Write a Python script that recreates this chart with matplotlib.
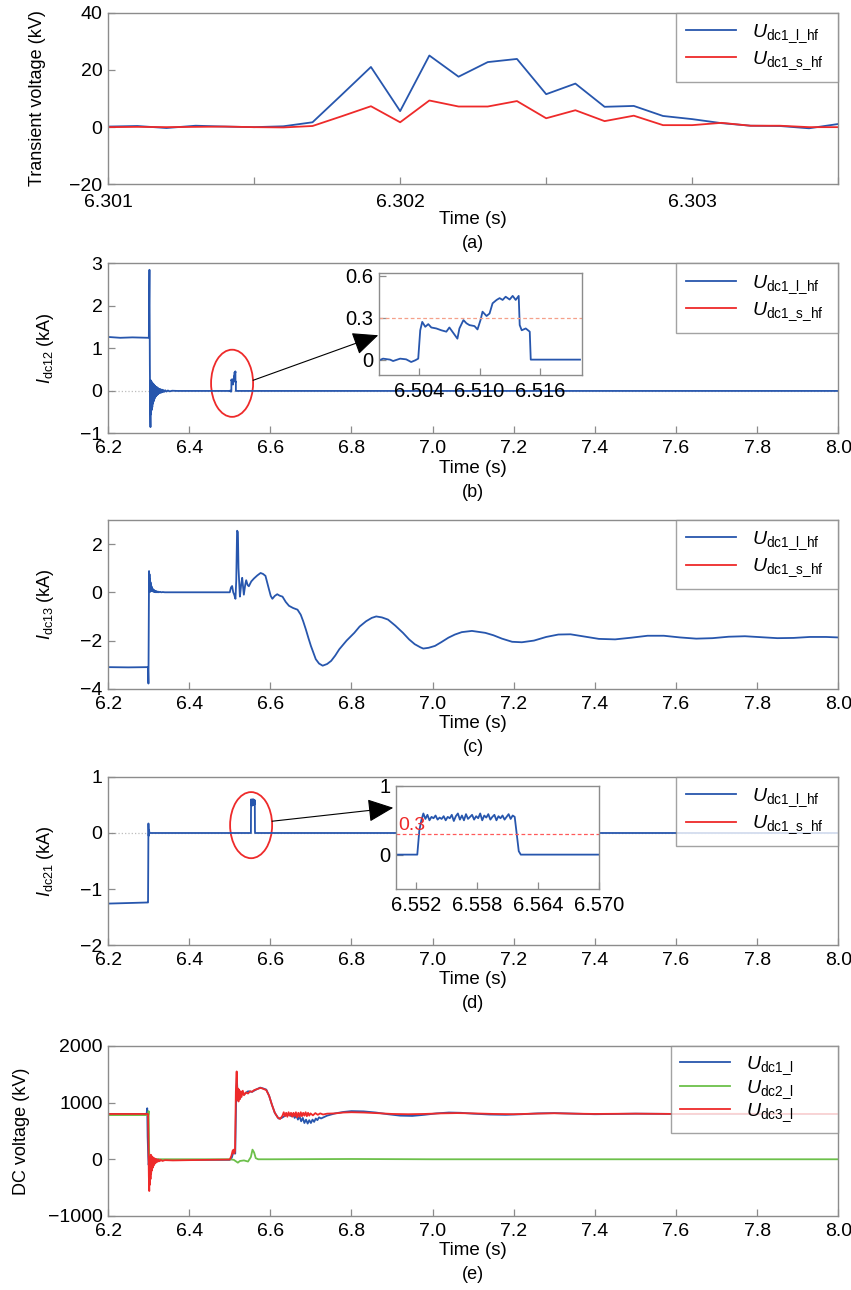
import numpy as np
import matplotlib
matplotlib.use("Agg")
import matplotlib.pyplot as plt
from matplotlib.patches import Ellipse

plt.rcParams['font.family'] = ['Liberation Sans', 'DejaVu Sans']
plt.rcParams['mathtext.fontset'] = 'custom'
plt.rcParams['mathtext.rm'] = 'Liberation Sans'
plt.rcParams['mathtext.it'] = 'Liberation Sans:italic'

BLUE = '#2756ad'
RED = '#ee2a2a'
GREEN = '#6cc04a'
GRAY = '#8c8c8c'

# ---- (a) transient voltage ----
a_time = [6.3010, 6.3011, 6.3012, 6.3013, 6.3014, 6.3015, 6.3016, 6.3017, 6.3018, 6.3019,
          6.3020, 6.3021, 6.3022, 6.3023, 6.3024, 6.3025, 6.3026, 6.3027, 6.3028, 6.3029,
          6.3030, 6.3031, 6.3032, 6.3033, 6.3034, 6.3035]
a_long = [0.2, 0.4, -0.3, 0.5, 0.2, 0.0, 0.3, 1.7, 11.3, 21.0,
          5.6, 25.0, 17.6, 22.7, 23.8, 11.5, 15.2, 7.1, 7.4, 3.9,
          2.8, 1.4, 0.5, 0.4, -0.4, 1.1]
a_short = [0.0, 0.1, 0.0, 0.1, 0.2, 0.0, -0.1, 0.4, 3.8, 7.3,
           1.7, 9.3, 7.2, 7.2, 9.1, 3.1, 5.9, 2.1, 4.0, 0.7,
           0.7, 1.5, 0.5, 0.5, 0.0, 0.0]

# ---- (b) Idc12 ----
b_time = [6.2000, 6.2300, 6.2600, 6.3005, 6.3012, 6.3020, 6.3030, 6.3038, 6.3045, 6.3052,
          6.3060, 6.3067, 6.3075, 6.3082, 6.3090, 6.3097, 6.3105, 6.3112, 6.3120, 6.3128,
          6.3136, 6.3144, 6.3152, 6.3160, 6.3168, 6.3176, 6.3185, 6.3194, 6.3203, 6.3215,
          6.3227, 6.3239, 6.3251, 6.3265, 6.3279, 6.3293, 6.3310, 6.3328, 6.3346, 6.3365,
          6.3385, 6.3410, 6.3440, 6.3475, 6.3520, 6.3580, 6.3700, 6.4000, 6.4500, 6.4990]
b_vals = [1.27, 1.25, 1.26, 1.25, 2.10, 2.85, 0.60, -0.40, -0.85, 0.25,
          -0.55, 0.22, -0.45, 0.20, -0.38, 0.18, -0.30, 0.17, -0.25, 0.15,
          -0.21, 0.13, -0.17, 0.12, -0.14, 0.10, -0.12, 0.09, -0.10, 0.08,
          -0.08, 0.06, -0.06, 0.05, -0.05, 0.04, -0.04, 0.03, -0.03, 0.02,
          -0.02, 0.015, -0.015, 0.01, -0.01, 0.005, 0.0, 0.0, 0.0, 0.0]
b_zoom_time = [6.5000, 6.5004, 6.5011, 6.5014, 6.5021, 6.5027, 6.5032, 6.5036, 6.5039, 6.5041,
               6.5043, 6.5046, 6.5049, 6.5052, 6.5057, 6.5062, 6.5067, 6.5070, 6.5074, 6.5078,
               6.5080, 6.5084, 6.5087, 6.5090, 6.5095, 6.5098, 6.5101, 6.5103, 6.5107, 6.5110,
               6.5113, 6.5117, 6.5120, 6.5123, 6.5126, 6.5130, 6.5133, 6.5136, 6.5139, 6.5140,
               6.5142, 6.5146, 6.5150, 6.5151, 6.5200]
b_zoom_vals = [-0.005, 0.007, 0.0, -0.01, 0.007, 0.002, -0.017, -0.005, 0.007, 0.21,
               0.27, 0.235, 0.254, 0.23, 0.223, 0.21, 0.20, 0.23, 0.19, 0.15,
               0.223, 0.283, 0.26, 0.247, 0.24, 0.216, 0.283, 0.343, 0.312, 0.33,
               0.403, 0.427, 0.44, 0.427, 0.45, 0.43, 0.456, 0.427, 0.456, 0.247,
               0.21, 0.223, 0.20, 0.0, 0.0]

# ---- (c) Idc13 ----
c_time = [6.2000, 6.2500, 6.2985, 6.2995, 6.3003, 6.3010, 6.3016, 6.3022, 6.3028, 6.3034,
          6.3040, 6.3046, 6.3052, 6.3058, 6.3064, 6.3070, 6.3078, 6.3086, 6.3094, 6.3102,
          6.3112, 6.3122, 6.3132, 6.3142, 6.3155, 6.3168, 6.3180, 6.3195, 6.3210, 6.3230,
          6.3250, 6.3280, 6.3310, 6.3350, 6.3400, 6.4000, 6.4950, 6.5000, 6.5030, 6.5058,
          6.5085, 6.5110, 6.5140, 6.5160, 6.5180, 6.5200, 6.5215, 6.5250, 6.5280, 6.5306,
          6.5330, 6.5347, 6.5380, 6.5405, 6.5440, 6.5470, 6.5530, 6.5595, 6.5680, 6.5760,
          6.5820, 6.5880, 6.5930, 6.5970, 6.6010, 6.6050, 6.6110, 6.6170, 6.6230, 6.6300,
          6.6380, 6.6460, 6.6560, 6.6670, 6.6750, 6.6810, 6.6876, 6.6940, 6.7000, 6.7060,
          6.7120, 6.7200, 6.7290, 6.7400, 6.7500, 6.7600, 6.7700, 6.7880, 6.8070, 6.8200,
          6.8360, 6.8500, 6.8610, 6.8750, 6.8900, 6.9080, 6.9270, 6.9420, 6.9560, 6.9700,
          6.9770, 6.9900, 7.0060, 7.0220, 7.0390, 7.0550, 7.0720, 7.0970, 7.1300, 7.1500,
          7.1710, 7.1960, 7.2200, 7.2500, 7.2800, 7.3100, 7.3400, 7.3700, 7.4100, 7.4500,
          7.4900, 7.5300, 7.5700, 7.6100, 7.6500, 7.6900, 7.7300, 7.7700, 7.8100, 7.8500,
          7.8900, 7.9300, 7.9700, 8.0000]
c_vals = [-3.10, -3.11, -3.10, -3.78, -1.00, 0.88, 0.10, 0.75, 0.05, 0.55,
          0.02, 0.42, 0.05, 0.32, 0.05, 0.25, 0.06, 0.18, 0.05, 0.14,
          0.03, 0.10, 0.02, 0.08, 0.01, 0.06, 0.00, 0.04, 0.00, 0.03,
          0.00, 0.02, 0.00, 0.01, 0.00, 0.00, 0.00, 0.00, 0.20, 0.26,
          0.00, -0.10, -0.27, 0.50, 2.55, 2.50, 1.00, -0.18, 0.30, 0.60,
          0.20, -0.10, 0.30, 0.50, 0.30, 0.25, 0.45, 0.57, 0.70, 0.80,
          0.76, 0.68, 0.35, 0.10, -0.15, -0.27, -0.15, -0.08, -0.14, -0.18,
          -0.40, -0.56, -0.65, -0.72, -0.93, -1.20, -1.54, -1.90, -2.22, -2.50,
          -2.77, -2.95, -3.04, -2.97, -2.84, -2.62, -2.36, -2.00, -1.68, -1.42,
          -1.20, -1.06, -1.00, -1.04, -1.13, -1.38, -1.68, -1.95, -2.15, -2.28,
          -2.33, -2.30, -2.22, -2.06, -1.88, -1.75, -1.65, -1.60, -1.68, -1.78,
          -1.92, -2.05, -2.07, -2.00, -1.85, -1.75, -1.74, -1.82, -1.93, -1.95,
          -1.88, -1.80, -1.80, -1.87, -1.92, -1.90, -1.84, -1.82, -1.86, -1.90,
          -1.89, -1.85, -1.85, -1.87]

# ---- (d) Idc21 ----
d_time = [6.2000, 6.2500, 6.2980, 6.2985, 6.2990, 6.2995, 6.3002, 6.3010, 6.3020, 6.3100,
          6.4000, 6.5500, 6.5521, 6.5523]
d_vals = [-1.26, -1.25, -1.24, -1.24, -0.60, 0.17, -0.05, 0.05, 0.00, 0.00,
          0.00, 0.00, 0.00, 0.35]
d_zoom_time = [6.5525, 6.5527, 6.5529, 6.5531, 6.5533, 6.5535, 6.5537, 6.5539, 6.5541, 6.5543,
               6.5545, 6.5547, 6.5549, 6.5551, 6.5553, 6.5555, 6.5557, 6.5559, 6.5561, 6.5563,
               6.5565, 6.5567, 6.5569, 6.5571, 6.5573, 6.5575, 6.5577, 6.5579, 6.5581, 6.5583,
               6.5585, 6.5587, 6.5589, 6.5591, 6.5593, 6.5595, 6.5597, 6.5599, 6.5601, 6.5603,
               6.5605, 6.5607, 6.5609, 6.5611, 6.5613, 6.5615, 6.5617]
d_zoom_vals = [0.50, 0.60, 0.52, 0.58, 0.50, 0.55, 0.53, 0.57, 0.51, 0.54,
               0.52, 0.56, 0.50, 0.55, 0.53, 0.58, 0.49, 0.56, 0.60, 0.51,
               0.57, 0.50, 0.59, 0.52, 0.55, 0.58, 0.51, 0.56, 0.53, 0.60,
               0.50, 0.57, 0.54, 0.59, 0.51, 0.55, 0.58, 0.50, 0.56, 0.53,
               0.57, 0.51, 0.55, 0.59, 0.52, 0.57, 0.55]
d_tail_time = [6.5619, 6.5621, 6.5623, 6.5700, 8.0000]
d_tail_vals = [0.30, 0.05, 0.00, 0.00, 0.00]

# ---- (e) DC voltages ----
e1_time = [6.2000, 6.2950, 6.2965, 6.2975, 6.2990, 6.3000, 6.3020, 6.3050, 6.3100, 6.3300,
           6.5000, 6.5050, 6.5100, 6.5135, 6.5155, 6.5175, 6.5195, 6.5220, 6.5260, 6.5300,
           6.5360, 6.5450, 6.5550, 6.5650, 6.5750, 6.5820, 6.5900, 6.5970, 6.6040, 6.6110,
           6.6200, 6.6280, 6.6370, 6.6450, 6.6520, 6.6560, 6.6600, 6.6640, 6.6680, 6.6720,
           6.6760, 6.6800, 6.6840, 6.6880, 6.6920, 6.6960, 6.7000, 6.7040, 6.7080, 6.7120,
           6.7160, 6.7200, 6.7250, 6.7400, 6.7600, 6.7800, 6.8000, 6.8300, 6.8600, 6.8900,
           6.9200, 6.9500, 6.9800, 7.0100, 7.0400, 7.0700, 7.1000, 7.1400, 7.1800, 7.2200,
           7.2600, 7.3000, 7.3500, 7.4000, 7.4500, 7.5000, 7.6000, 7.7000, 8.0000]
e1_vals = [800, 800, 900, 400, 50, -100, 50, -30, 0, -10,
           -10, 30, 150, 100, 1000, 1440, 1100, 1150, 1080, 1180,
           1150, 1200, 1190, 1230, 1265, 1250, 1230, 1120, 960, 820,
           720, 730, 770, 790, 760, 800, 730, 780, 700, 760,
           670, 730, 640, 700, 630, 690, 640, 700, 660, 720,
           690, 740, 720, 770, 810, 835, 850, 845, 825, 795,
           770, 765, 785, 810, 825, 820, 805, 790, 785, 795,
           810, 815, 805, 795, 800, 805, 800, 800, 800]
e2_time = [6.2000, 6.2990, 6.3000, 6.3010, 6.3020, 6.3040, 6.3060, 6.3100, 6.3200, 6.5000,
           6.5100, 6.5200, 6.5250, 6.5350, 6.5450, 6.5520, 6.5560, 6.5600, 6.5640, 6.5700,
           6.6000, 6.8000, 7.0000, 7.5000, 8.0000]
e2_vals = [780, 780, 850, 200, -30, 30, -10, 10, 0, 0,
           -10, -60, -30, -20, -40, 40, 170, 120, 20, 0,
           0, 5, 0, 0, 0]
e3_time = [6.2000, 6.2985, 6.2995, 6.3005, 6.3015, 6.3022, 6.3030, 6.3038, 6.3046, 6.3054,
           6.3062, 6.3070, 6.3080, 6.3090, 6.3100, 6.3112, 6.3124, 6.3136, 6.3150, 6.3165,
           6.3180, 6.3200, 6.3220, 6.3245, 6.3270, 6.3300, 6.3340, 6.3400, 6.3600, 6.4000,
           6.4500, 6.5000, 6.5040, 6.5070, 6.5095, 6.5110, 6.5130, 6.5150, 6.5170, 6.5185,
           6.5200, 6.5215, 6.5230, 6.5250, 6.5270, 6.5290, 6.5320, 6.5350, 6.5400, 6.5450,
           6.5500, 6.5550, 6.5600, 6.5680, 6.5760, 6.5820, 6.5900, 6.5970, 6.6040, 6.6110,
           6.6180, 6.6240, 6.6300, 6.6330, 6.6360, 6.6390, 6.6420, 6.6450, 6.6480, 6.6510,
           6.6540, 6.6570, 6.6600, 6.6630, 6.6660, 6.6690, 6.6720, 6.6750, 6.6780, 6.6810,
           6.6840, 6.6870, 6.6900, 6.6930, 6.6960, 6.6990, 6.7050, 6.7110, 6.7170, 6.7230,
           6.7300, 6.7400, 6.7600, 6.7800, 6.8000, 6.8300, 6.8600, 6.9000, 6.9400, 6.9800,
           7.0200, 7.0600, 7.1000, 7.1500, 7.2000, 7.2500, 7.3000, 7.3500, 7.4000, 7.5000,
           7.6000, 7.7000, 8.0000]
e3_vals = [800, 800, 300, -300, -560, -100, -450, 50, -350, 80,
           -250, 60, -200, 40, -150, 30, -110, 20, -80, 10,
           -60, 0, -45, -5, -35, -10, -30, -15, -20, -15,
           -10, -5, 60, 150, 170, 100, 150, 1200, 1550, 1050,
           1250, 1020, 1230, 1060, 1200, 1100, 1210, 1130, 1180, 1160,
           1200, 1190, 1220, 1240, 1260, 1245, 1220, 1120, 960, 820,
           740, 710, 770, 830, 760, 820, 750, 830, 770, 820,
           750, 820, 760, 830, 740, 820, 750, 830, 760, 820,
           770, 830, 760, 820, 770, 810, 775, 815, 785, 810,
           790, 805, 810, 825, 830, 825, 815, 800, 795, 800,
           810, 815, 810, 800, 795, 805, 812, 805, 800, 805,
           800, 802, 800]

lbl_hf = [r'$U_{\mathrm{dc1\_l\_hf}}$', r'$U_{\mathrm{dc1\_s\_hf}}$']
lbl_e = [r'$U_{\mathrm{dc1\_l}}$', r'$U_{\mathrm{dc2\_l}}$', r'$U_{\mathrm{dc3\_l}}$']
long_ticks = [6.2, 6.4, 6.6, 6.8, 7.0, 7.2, 7.4, 7.6, 7.8, 8.0]


def style_axis(ax, fs=14, xpad=5):
    for sp in ax.spines.values():
        sp.set_color(GRAY)
        sp.set_linewidth(1.0)
    ax.tick_params(direction='in', length=5, width=0.9, color=GRAY, labelsize=fs)
    ax.tick_params(axis='x', pad=xpad)
    ax.tick_params(axis='y', pad=4)


def finish(ax, ylabel, letter, ylab_x=-0.086, xpad=5):
    style_axis(ax, xpad=xpad)
    ax.set_xlabel('Time (s)', fontsize=13.5)
    ax.xaxis.set_label_coords(0.5, -0.205)
    ax.xaxis.label.set_va('center')
    ax.set_ylabel(ylabel, fontsize=13)
    ax.yaxis.set_label_coords(ylab_x, 0.5)
    ax.yaxis.label.set_va('center')
    ax.text(0.5, -0.345, letter, transform=ax.transAxes, ha='center', va='center', fontsize=13)


def add_legend(ax, x0=0.778, bpad=0.5, lspace=0.25):
    leg = ax.legend(loc='upper left', bbox_to_anchor=(x0, 0, 1 - x0, 1), mode='expand',
                    fontsize=14, frameon=True, fancybox=False,
                    borderaxespad=0, edgecolor=GRAY, handlelength=2.6,
                    borderpad=bpad, labelspacing=lspace, handletextpad=0.8)
    leg.get_frame().set_linewidth(1.0)


fig = plt.figure(figsize=(8.51, 12.90), dpi=100)
L, W = 0.127, 0.858

# (a)
ax = fig.add_axes([L, 0.857, W, 0.1333])
ax.plot(a_time, a_long, color=BLUE, lw=1.3, label=lbl_hf[0])
ax.plot(a_time, a_short, color=RED, lw=1.3, label=lbl_hf[1])
ax.set_xlim(6.301, 6.3035)
ax.set_ylim(-20, 40)
ax.set_yticks([-20, 0, 20, 40])
ax.set_xticks([6.301, 6.3015, 6.302, 6.3025, 6.303, 6.3035])
ax.set_xticklabels(['6.301', '', '6.302', '', '6.303', ''])
add_legend(ax)
finish(ax, 'Transient voltage (kV)', '(a)', ylab_x=-0.096, xpad=7)

# (b)
ax = fig.add_axes([L, 0.664, W, 0.1318])
ax.axhline(0, color='#bdbdbd', ls=':', lw=0.9, zorder=0)
ax.plot(b_time + b_zoom_time + [8.0], b_vals + b_zoom_vals + [0.0], color=BLUE, lw=1.3,
        label=lbl_hf[0])
ax.plot([], [], color=RED, lw=1.3, label=lbl_hf[1])
ax.set_xlim(6.2, 8.0)
ax.set_ylim(-1, 3)
ax.set_xticks(long_ticks)
ax.set_xticklabels(['%.1f' % t for t in long_ticks])
ax.set_yticks([-1, 0, 1, 2, 3])
ax.add_patch(Ellipse((6.5057, 0.18), 0.1036, 1.58, fill=False, edgecolor=RED, lw=1.3))
ax.annotate('', xy=(6.866, 1.31), xytext=(6.5575, 0.25),
            arrowprops=dict(arrowstyle='-|>,head_length=1.0,head_width=0.45', color='black',
                            lw=0.8, shrinkA=0, shrinkB=0, mutation_scale=16))
add_legend(ax)
finish(ax, r'$I_{\mathrm{dc12}}$ (kA)', '(b)')

axi = fig.add_axes([0.4454, 0.7093, 0.2385, 0.0791])
axi.plot(b_zoom_time, b_zoom_vals, color=BLUE, lw=1.3)
axi.axhline(0.3, color='#f5a08a', ls=(0, (3, 2)), lw=0.9)
axi.set_xlim(6.500, 6.5202)
axi.set_ylim(-0.11, 0.62)
axi.set_xticks([6.504, 6.510, 6.516])
axi.set_xticklabels(['6.504', '6.510', '6.516'])
axi.set_yticks([0, 0.3, 0.6])
axi.set_yticklabels(['0', '0.3', '0.6'])
style_axis(axi, fs=14.5)

# (c)
ax = fig.add_axes([L, 0.466, W, 0.131])
ax.plot(c_time, c_vals, color=BLUE, lw=1.3, label=lbl_hf[0])
ax.plot([], [], color=RED, lw=1.3, label=lbl_hf[1])
ax.set_xlim(6.2, 8.0)
ax.set_ylim(-4, 3)
ax.set_xticks(long_ticks)
ax.set_xticklabels(['%.1f' % t for t in long_ticks])
ax.set_yticks([-4, -2, 0, 2])
add_legend(ax)
finish(ax, r'$I_{\mathrm{dc13}}$ (kA)', '(c)')

# (d)
ax = fig.add_axes([L, 0.2674, W, 0.1303])
ax.axhline(0, color='#bdbdbd', ls=':', lw=0.9, zorder=0)
ax.plot(d_time + d_zoom_time + d_tail_time, d_vals + d_zoom_vals + d_tail_vals,
        color=BLUE, lw=1.3, label=lbl_hf[0])
ax.plot([], [], color=RED, lw=1.3, label=lbl_hf[1])
ax.set_xlim(6.2, 8.0)
ax.set_ylim(-2, 1)
ax.set_xticks(long_ticks)
ax.set_xticklabels(['%.1f' % t for t in long_ticks])
ax.set_yticks([-2, -1, 0, 1])
ax.add_patch(Ellipse((6.5526, 0.14), 0.1036, 1.18, fill=False, edgecolor=RED, lw=1.3))
ax.annotate('', xy=(6.903, 0.45), xytext=(6.6043, 0.21),
            arrowprops=dict(arrowstyle='-|>,head_length=1.0,head_width=0.45', color='black',
                            lw=0.8, shrinkA=0, shrinkB=0, mutation_scale=16))
add_legend(ax)
finish(ax, r'$I_{\mathrm{dc21}}$ (kA)', '(d)')

axi = fig.add_axes([0.4653, 0.3109, 0.2385, 0.0798])
axi.plot([6.5500, 6.5521, 6.5523] + d_zoom_time + d_tail_time[:4],
         [0.0, 0.0, 0.35] + d_zoom_vals + d_tail_vals[:4], color=BLUE, lw=1.3)
axi.axhline(0.3, color='#ff5a5a', ls=(0, (3, 2)), lw=0.9)
axi.text(6.5502, 0.3, '0.3', color=RED, fontsize=14, ha='left', va='bottom')
axi.set_xlim(6.550, 6.570)
axi.set_ylim(-0.5, 1)
axi.set_xticks([6.552, 6.558, 6.564, 6.570])
axi.set_xticklabels(['6.552', '6.558', '6.564', '6.570'])
axi.set_yticks([0, 1])
axi.set_yticklabels(['0', '1'])
style_axis(axi, fs=14.5)

# (e)
ax = fig.add_axes([L, 0.0574, W, 0.1318])
ax.plot(e1_time, e1_vals, color=BLUE, lw=1.3, label=lbl_e[0])
ax.plot(e2_time, e2_vals, color=GREEN, lw=1.3, label=lbl_e[1])
ax.plot(e3_time, e3_vals, color=RED, lw=1.3, label=lbl_e[2])
ax.set_xlim(6.2, 8.0)
ax.set_ylim(-1000, 2000)
ax.set_xticks(long_ticks)
ax.set_xticklabels(['%.1f' % t for t in long_ticks])
ax.set_yticks([-1000, 0, 1000, 2000])
add_legend(ax, x0=0.771, bpad=0.45, lspace=0.05)
finish(ax, 'DC voltage (kV)', '(e)', ylab_x=-0.118)

fig.savefig('out.png', dpi=100)
